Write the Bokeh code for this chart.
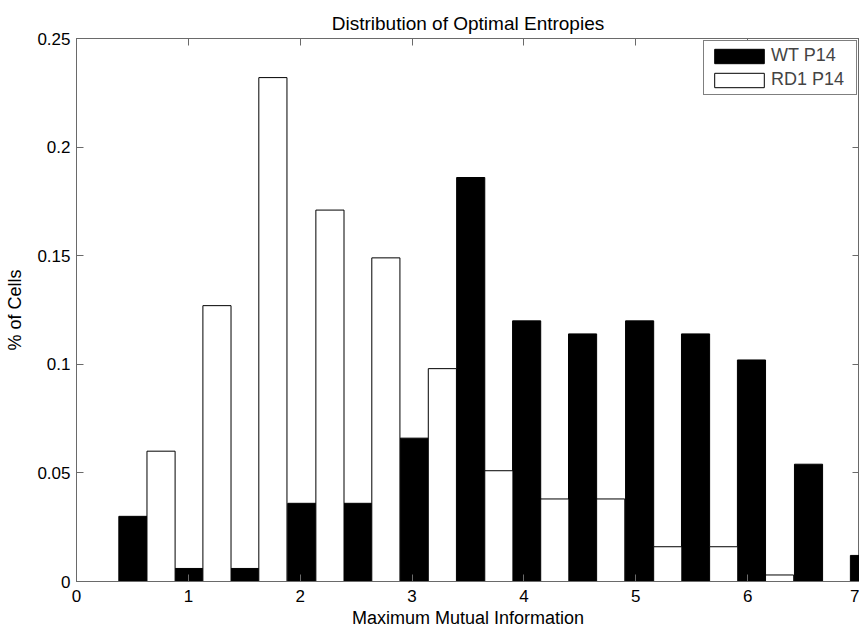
from bokeh.plotting import figure
from bokeh.models import (Range1d, FixedTicker, LinearAxis, Legend, LegendItem,
                          ColumnDataSource, CustomJSTickFormatter)
from bokeh.transform import dodge
from bokeh.embed import file_html
from bokeh.resources import INLINE

# ---- data ----
bin_centers = [0.63, 1.13, 1.63, 2.14, 2.64, 3.145, 3.65, 4.15, 4.65, 5.16, 5.66, 6.16, 6.67, 7.17]
wt_p14 = [0.030, 0.006, 0.006, 0.036, 0.036, 0.066, 0.186, 0.120, 0.114, 0.120, 0.114, 0.102, 0.054, 0.012]
rd1_p14 = [0.060, 0.127, 0.232, 0.171, 0.149, 0.098, 0.051, 0.038, 0.038, 0.016, 0.016, 0.003, 0.0, 0.0]
x_ticks = [0, 1, 2, 3, 4, 5, 6, 7]
y_ticks = [0, 0.05, 0.1, 0.15, 0.2, 0.25]
series_names = ["WT P14", "RD1 P14"]
title_text = "Distribution of Optimal Entropies"
x_label = "Maximum Mutual Information"
y_label = "% of Cells"

bin_step = 0.503
bar_w = bin_step / 2

FONT = "Liberation Sans"
AX_COL = "#6a6a6a"

src = ColumnDataSource(dict(x=bin_centers, wt=wt_p14, rd1=rd1_p14))

p = figure(width=859, height=630, output_backend="svg", toolbar_location=None,
           x_range=Range1d(0, 7), y_range=Range1d(0, 0.25),
           min_border_left=76, min_border_right=0, min_border_top=38, min_border_bottom=47,
           background_fill_color="white", border_fill_color="white")

p.title.text = title_text
p.title.text_font = FONT
p.title.text_font_size = "19px"
p.title.text_font_style = "normal"
p.title.align = "center"
p.title.text_color = "black"

p.xgrid.visible = False
p.ygrid.visible = False
p.outline_line_color = AX_COL

r_wt = p.vbar(x=dodge("x", -bar_w / 2, range=p.x_range), top="wt", width=bar_w, bottom=0,
              source=src, fill_color="black", line_color="black", line_width=1)
r_rd = p.vbar(x=dodge("x", bar_w / 2, range=p.x_range), top="rd1", width=bar_w, bottom=0,
              source=src, fill_color="white", line_color="black", line_width=1)

fmt = CustomJSTickFormatter(code="return String(tick);")
blank = CustomJSTickFormatter(code="return '';")

for ax in p.xaxis:
    ax.ticker = FixedTicker(ticks=x_ticks)
    ax.formatter = fmt
    ax.axis_label = x_label
for ax in p.yaxis:
    ax.ticker = FixedTicker(ticks=y_ticks)
    ax.formatter = fmt
    ax.axis_label = y_label

for ax in list(p.xaxis) + list(p.yaxis):
    ax.major_tick_in = 7
    ax.major_tick_out = 0
    ax.minor_tick_line_color = None
    ax.axis_line_color = AX_COL
    ax.major_tick_line_color = AX_COL
    ax.major_label_text_font = FONT
    ax.major_label_text_font_size = "17px"
    ax.major_label_text_color = "black"
    ax.axis_label_text_font = FONT
    ax.axis_label_text_font_size = "18px"
    ax.axis_label_text_font_style = "normal"
    ax.axis_label_text_color = "black"

p.xaxis.major_label_standoff = 8
p.xaxis.axis_label_standoff = 3
p.yaxis.major_label_standoff = 6
p.yaxis.axis_label_standoff = 9

# box ticks on the top and right sides (no labels)
top_ax = LinearAxis(ticker=FixedTicker(ticks=x_ticks), formatter=blank,
                    major_label_standoff=0, major_tick_in=7, major_tick_out=0,
                    minor_tick_line_color=None, axis_line_color=AX_COL,
                    major_tick_line_color=AX_COL)
right_ax = LinearAxis(ticker=FixedTicker(ticks=y_ticks), formatter=blank,
                      major_label_standoff=0, major_tick_in=7, major_tick_out=0,
                      minor_tick_line_color=None, axis_line_color=AX_COL,
                      major_tick_line_color=AX_COL)
p.add_layout(top_ax, "above")
p.add_layout(right_ax, "right")

legend = Legend(items=[LegendItem(label=series_names[0], renderers=[r_wt]),
                       LegendItem(label=series_names[1], renderers=[r_rd])],
                location=(627, 486),
                glyph_width=62, glyph_height=18, label_height=18, label_width=81,
                spacing=3, padding=4, label_standoff=1,
                label_text_font=FONT, label_text_font_size="18px",
                border_line_color="black", border_line_width=1,
                background_fill_color="white", background_fill_alpha=1.0)
p.add_layout(legend, "center")

open("out.html", "w").write(file_html(p, INLINE))
